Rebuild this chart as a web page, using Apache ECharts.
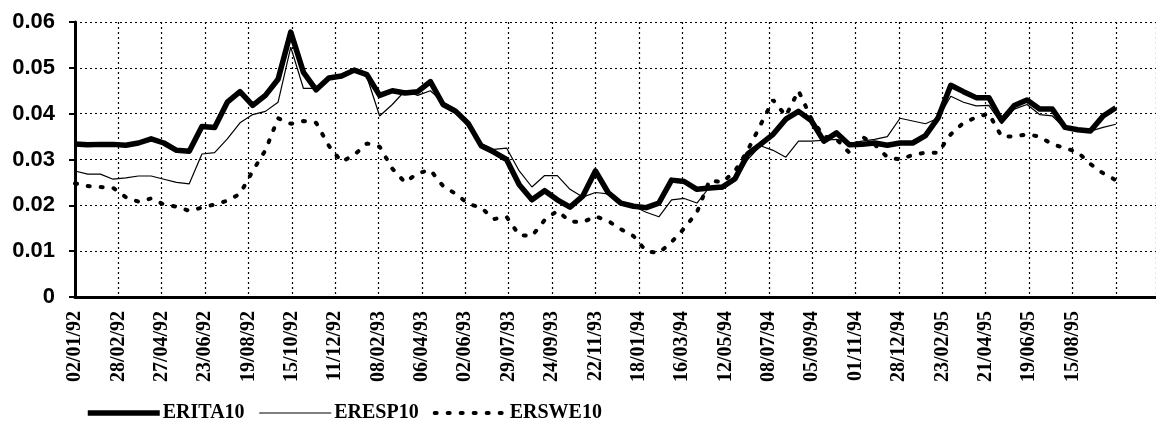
<!DOCTYPE html>
<html>
<head>
<meta charset="utf-8">
<script src="https://cdn.jsdelivr.net/npm/echarts@6/dist/echarts.min.js"></script>
<style>
  html, body { margin: 0; padding: 0; background: #fff; }
  #chart { width: 1156px; height: 424px; }
</style>
</head>
<body>
<div id="chart"></div>
<script>
// x axis = trading-day index, one label every 41 trading days
const tickLabels = [
  '02/01/92', '28/02/92', '27/04/92', '23/06/92', '19/08/92', '15/10/92',
  '11/12/92', '08/02/93', '06/04/93', '02/06/93', '29/07/93', '24/09/93',
  '22/11/93', '18/01/94', '16/03/94', '12/05/94', '08/07/94', '05/09/94',
  '01/11/94', '28/12/94', '23/02/95', '21/04/95', '19/06/95', '15/08/95'
];
const labelEvery = 41;
const step = 12; // one reading every 12 trading days

const erita10 = [
  0.0334, 0.0332, 0.0333, 0.0333, 0.0331, 0.0336, 0.0345, 0.0336, 0.0320, 0.0318,
  0.0372, 0.0370, 0.0425, 0.0448, 0.0418, 0.0440, 0.0475, 0.0578, 0.0490, 0.0452,
  0.0478, 0.0482, 0.0495, 0.0485, 0.0440, 0.0450, 0.0445, 0.0448, 0.0470, 0.0420,
  0.0405, 0.0378, 0.0330, 0.0316, 0.0300, 0.0245, 0.0212, 0.0232, 0.0212, 0.0196,
  0.0220, 0.0275, 0.0228, 0.0205, 0.0198, 0.0195, 0.0205, 0.0255, 0.0252, 0.0235,
  0.0238, 0.0240, 0.0258, 0.0312, 0.0333, 0.0355, 0.0388, 0.0405, 0.0385, 0.0340,
  0.0358, 0.0332, 0.0333, 0.0336, 0.0331, 0.0336, 0.0336, 0.0352, 0.0391, 0.0462,
  0.0448, 0.0435, 0.0435, 0.0385, 0.0418, 0.0430, 0.0410, 0.0410, 0.0370, 0.0365,
  0.0362, 0.0395, 0.0413
];

const eresp10 = [
  0.0275, 0.0268, 0.0268, 0.0257, 0.0260, 0.0264, 0.0264, 0.0257, 0.0250, 0.0247,
  0.0312, 0.0315, 0.0345, 0.0380, 0.0398, 0.0405, 0.0425, 0.0545, 0.0455, 0.0455,
  0.0475, 0.0480, 0.0495, 0.0480, 0.0395, 0.0420, 0.0450, 0.0440, 0.0450, 0.0425,
  0.0410, 0.0370, 0.0335, 0.0322, 0.0325, 0.0275, 0.0240, 0.0265, 0.0265, 0.0235,
  0.0218, 0.0228, 0.0225, 0.0202, 0.0198, 0.0185, 0.0175, 0.0212, 0.0215, 0.0205,
  0.0240, 0.0235, 0.0253, 0.0300, 0.0330, 0.0320, 0.0305, 0.0340, 0.0340, 0.0342,
  0.0344, 0.0335, 0.0340, 0.0344, 0.0350, 0.0390, 0.0384, 0.0378, 0.0390, 0.0438,
  0.0425, 0.0417, 0.0418, 0.0378, 0.0410, 0.0420, 0.0398, 0.0395, 0.0368, 0.0362,
  0.0362, 0.0370, 0.0377
];

const erswe10 = [
  0.0248, 0.0242, 0.0240, 0.0238, 0.0218, 0.0208, 0.0215, 0.0202, 0.0197, 0.0188,
  0.0195, 0.0202, 0.0210, 0.0225, 0.0275, 0.0320, 0.0390, 0.0378, 0.0384, 0.0380,
  0.0330, 0.0295, 0.0310, 0.0335, 0.0328, 0.0280, 0.0250, 0.0270, 0.0277, 0.0242,
  0.0225, 0.0203, 0.0195, 0.0170, 0.0175, 0.0135, 0.0133, 0.0168, 0.0188, 0.0165,
  0.0163, 0.0176, 0.0166, 0.0148, 0.0133, 0.0100, 0.0096, 0.0120, 0.0150, 0.0185,
  0.0255, 0.0250, 0.0275, 0.0320, 0.0375, 0.0430, 0.0395, 0.0450, 0.0390, 0.0350,
  0.0344, 0.0315, 0.0350, 0.0333, 0.0305, 0.0300, 0.0310, 0.0315, 0.0315, 0.0355,
  0.0380, 0.0392, 0.0400, 0.0350, 0.0350, 0.0355, 0.0350, 0.0333, 0.0325, 0.0316,
  0.0290, 0.0270, 0.0255
];

const toPairs = arr => arr.map((v, i) => [i * step, v]);

const chart = echarts.init(document.getElementById('chart'));

const gridDots = { color: '#000', width: 1.2, type: [2, 3] };
const itaLine = { color: '#000', width: 5.5, join: 'round' };
const espLine = { color: '#000', width: 1.2 };
const sweLine = { color: '#000', width: 4, type: [2, 11], cap: 'round' };

chart.setOption({
  animation: false,
  backgroundColor: '#fff',
  grid: { left: 75, right: 0, top: 22, bottom: 127 },
  legend: {
    left: 80,
    top: 398,
    itemWidth: 72,
    itemHeight: 14,
    itemGap: 14,
    itemStyle: { opacity: 0 },
    textStyle: {
      fontFamily: 'Liberation Serif',
      fontWeight: 'bold',
      fontSize: 20,
      color: '#000',
      padding: [0, 0, 0, -2]
    },
    data: [
      { name: 'ERITA10', lineStyle: itaLine },
      { name: 'ERESP10', lineStyle: espLine },
      { name: 'ERSWE10', lineStyle: sweLine }
    ]
  },
  xAxis: [{
    type: 'value',
    min: 0,
    max: 1022,
    interval: labelEvery,
    axisLine: { show: true, onZero: false, lineStyle: { color: '#000', width: 3 } },
    axisTick: { show: false },
    splitLine: { show: true, lineStyle: gridDots },
    axisLabel: {
      rotate: 90,
      margin: 14,
      fontFamily: 'Liberation Serif',
      fontWeight: 'bold',
      fontSize: 20,
      color: '#000',
      showMaxLabel: false,
      formatter: v => tickLabels[v / labelEvery] || ''
    }
  }, {
    // solid frame line along the top
    type: 'value',
    position: 'top',
    min: 0,
    max: 1022,
    axisLine: { show: true, lineStyle: { color: '#000', width: 1.5 } },
    axisTick: { show: false },
    axisLabel: { show: false },
    splitLine: { show: false }
  }],
  yAxis: {
    type: 'value',
    min: 0,
    max: 0.06,
    interval: 0.01,
    axisLine: { show: true, lineStyle: { color: '#000', width: 3 } },
    axisTick: { show: true, length: 6, lineStyle: { color: '#000', width: 2 } },
    splitLine: { show: true, lineStyle: gridDots },
    axisLabel: {
      margin: 20,
      fontFamily: 'Liberation Sans',
      fontWeight: 'bold',
      fontSize: 22,
      color: '#000',
      formatter: v => (v === 0 ? '0' : v.toFixed(2))
    }
  },
  series: [
    {
      name: 'ERSWE10',
      type: 'line',
      showSymbol: false,
      symbol: 'none',
      itemStyle: { color: '#000' },
      data: toPairs(erswe10),
      lineStyle: sweLine
    },
    {
      name: 'ERESP10',
      type: 'line',
      showSymbol: false,
      symbol: 'none',
      itemStyle: { color: '#000' },
      data: toPairs(eresp10),
      lineStyle: espLine
    },
    {
      name: 'ERITA10',
      type: 'line',
      showSymbol: false,
      symbol: 'none',
      itemStyle: { color: '#000' },
      data: toPairs(erita10),
      lineStyle: itaLine
    }
  ]
});
</script>
</body>
</html>
